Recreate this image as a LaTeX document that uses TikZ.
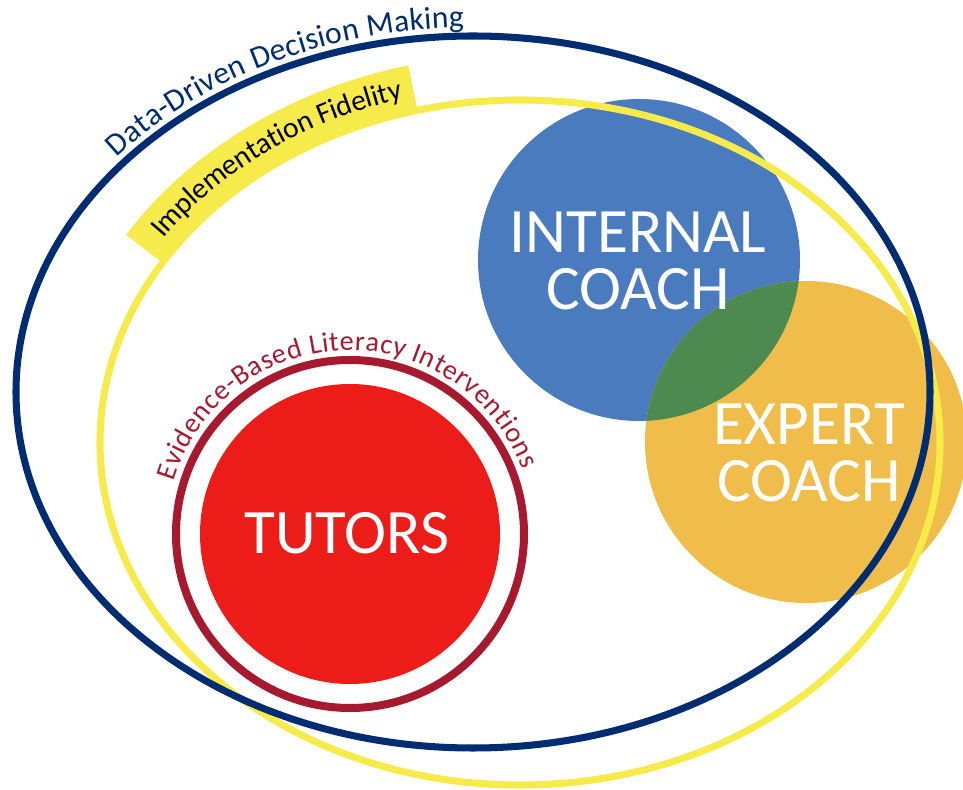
\documentclass[tikz,border=0pt]{standalone}
\usepackage{fontspec}
\setmainfont{Carlito}
\usetikzlibrary{decorations.text}

\definecolor{ddnavy}{HTML}{002D72}
\definecolor{ifyellow}{HTML}{F7EB4C}
\definecolor{icblue}{HTML}{4A7BBE}
\definecolor{ecorange}{HTML}{F0BD4A}
\definecolor{bothgreen}{HTML}{4C8A4F}
\definecolor{tutred}{HTML}{EC1D18}
\definecolor{ebred}{HTML}{A6192E}

\tikzset{
	bigtext/.style={text=white, font=\fontsize{45}{40.5}\selectfont, align=center, inner sep=0pt},
	arctext/.style={decorate, decoration={text along path, text align=center, #1}}
}

\begin{document}
\begin{tikzpicture}[x=0.025cm, y=0.025cm]
					\useasboundingbox (0,0) rectangle (963,790);

					% tutors and their ring
					\fill [tutred] (350,256) circle [radius=150];
					\draw [ebred, line width=5.7pt] (350,256) circle [radius=174];

					% coaches
					\fill [icblue] (639,530) circle [radius=161];
					\fill [ecorange] (806,348) circle [radius=161];
					\begin{scope}
						\clip (639,530) circle [radius=161];
						\fill [bothgreen] (806,348) circle [radius=161];
					\end{scope}

					% fidelity band and the two big ellipses
					\draw [ifyellow, line width=32.7pt] (520,347.5) ++(148:443 and 365.5) arc [start angle=148, end angle=104, x radius=443, y radius=365.5];
					\draw [ifyellow, line width=5pt] (520,347.5) ellipse [x radius=420, y radius=342.5];
					\draw [ddnavy, line width=5pt] (473,398) ellipse [x radius=457, y radius=356];

					% labels along the curves
					\path [arctext={raise=6pt, text color=ddnavy, text={|\fontsize{22.5}{27}\selectfont|Data-Driven Decision Making}}]
						(473,398) ++(158:457 and 356) arc [start angle=158, end angle=76, x radius=457, y radius=356];
					\path [arctext={raise=-6pt, text color=black, text={|\fontsize{21}{25}\selectfont|Implementation Fidelity}}]
						(520,347.5) ++(156:443 and 365.5) arc [start angle=156, end angle=96, x radius=443, y radius=365.5];
					\path [arctext={raise=7pt, text color=ebred, text={|\fontsize{20}{24}\selectfont|Evidence-Based Literacy Interventions}}]
						(350,256) ++(177:174) arc [start angle=177, end angle=7, radius=174];

					\node [bigtext] (internal) at (638,529.5) {INTERNAL\\COACH};
					\node [bigtext] (expert) at (809,337) {EXPERT\\COACH};
					\node [bigtext] (tutors) at (347,257) {TUTORS};
				\end{tikzpicture}
\end{document}
